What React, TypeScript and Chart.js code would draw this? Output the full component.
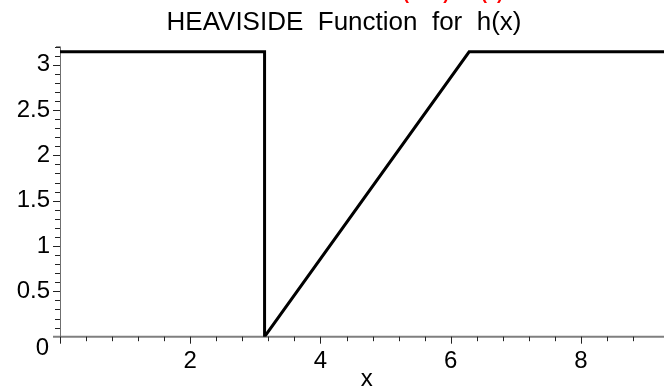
import React, { useEffect, useRef } from "react";
import { Chart, registerables } from "chart.js";

Chart.register(...registerables);

// Piecewise h(x): pi for x < pi, x - pi on [pi, 2pi], pi beyond 2pi
const xValues = [0, Math.PI, Math.PI, 2 * Math.PI, 3 * Math.PI];
const yValues = [Math.PI, Math.PI, 0, Math.PI, Math.PI];

const xTickLabels = [2, 4, 6, 8];
const yTickLabels = [0.5, 1, 1.5, 2, 2.5, 3];

const FONT = "'Liberation Sans', Arial, Helvetica, sans-serif";

const near = (a: number, b: number) => Math.abs(a - b) < 1e-6;
const isMultiple = (v: number, step: number) => near(v / step, Math.round(v / step));

const axesPlugin = {
  id: "mapleAxes",
  beforeDatasetsDraw(chart: any) {
    const { ctx, chartArea } = chart;
    const xs = chart.scales.x;
    const ys = chart.scales.y;
    const y0 = ys.getPixelForValue(0);
    const x0 = xs.getPixelForValue(0);
    ctx.save();
    // axis lines
    ctx.strokeStyle = "#7f7f7f";
    ctx.lineWidth = 2;
    ctx.beginPath();
    ctx.moveTo(x0 - 7, y0);
    ctx.lineTo(chart.width, y0);
    ctx.stroke();
    ctx.lineWidth = 1;
    ctx.strokeStyle = "#6f6f6f";
    ctx.beginPath();
    ctx.moveTo(x0 + 0.5, chartArea.top);
    ctx.lineTo(x0 + 0.5, y0);
    ctx.stroke();
    // tick marks
    ctx.strokeStyle = "#222";
    ctx.lineWidth = 1;
    ctx.beginPath();
    xs.ticks.forEach((t: any) => {
      const v = t.value;
      if (!isMultiple(v, 0.4)) return;
      const px = Math.round(xs.getPixelForValue(v)) + 0.5;
      const len = isMultiple(v, 2) ? 7 : 4.5;
      ctx.moveTo(px, y0);
      ctx.lineTo(px, y0 + len);
    });
    ys.ticks.forEach((t: any) => {
      const v = t.value;
      if (!isMultiple(v, 0.1) || near(v, 0)) return;
      const py = Math.round(ys.getPixelForValue(v)) + 0.5;
      const len = isMultiple(v, 0.5) ? 7 : 5;
      ctx.moveTo(x0, py);
      ctx.lineTo(x0 - len, py);
    });
    // hook at the top of the vertical axis
    ctx.moveTo(x0 - 4, chartArea.top + 0.5);
    ctx.lineTo(x0, chartArea.top + 0.5);
    ctx.stroke();
    // origin label sits below the horizontal axis
    ctx.fillStyle = "#000";
    ctx.font = `24px ${FONT}`;
    ctx.textAlign = "right";
    ctx.textBaseline = "middle";
    ctx.fillText("0", x0 - 11, y0 + 12);
    ctx.restore();
  },
  afterDraw(chart: any) {
    const { ctx } = chart;
    ctx.save();
    ctx.fillStyle = "#000";
    ctx.font = `26px ${FONT}`;
    ctx.textAlign = "center";
    ctx.textBaseline = "middle";
    ctx.fillText("HEAVISIDE  Function  for  h(x)", chart.width / 2, 23);
    // command line above the plot, mostly out of view
    ctx.fillStyle = "#ff0000";
    ctx.font = `bold 18px ${FONT}`;
    ctx.textAlign = "left";
    ctx.textBaseline = "alphabetic";
    ctx.fillText("(x\u2212\u03c0)", 403, -1.5);
    ctx.fillText("(x)", 481, -1.5);
    ctx.restore();
  },
};

export default function App() {
  const canvasRef = useRef<HTMLCanvasElement | null>(null);

  useEffect(() => {
    const canvas = canvasRef.current;
    if (!canvas) return;
    const chart = new Chart(canvas, {
      type: "scatter",
      data: {
        datasets: [
          {
            data: xValues.map((x, i) => ({ x, y: yValues[i] })),
            showLine: true,
            borderColor: "#000",
            borderWidth: 3,
            pointRadius: 0,
            fill: false,
          },
        ],
      },
      options: {
        responsive: false,
        animation: false,
        devicePixelRatio: 1,
        layout: { padding: { left: 0, right: 14.3, top: 46.5, bottom: 0 } },
        plugins: {
          legend: { display: false },
          tooltip: { enabled: false },
          title: { display: false },
        },
        scales: {
          x: {
            type: "linear",
            min: 0,
            max: 3 * Math.PI,
            grid: { display: false, drawTicks: false },
            border: { display: false },
            afterFit: (scale: any) => {
              scale.height = 50.3;
            },
            ticks: {
              stepSize: 0.4,
              autoSkip: false,
              maxRotation: 0,
              padding: 10,
              color: "#000",
              font: { family: FONT, size: 24 },
              callback: (v: any) => {
                const n = Number(v);
                const hit = xTickLabels.find((l) => near(l, n));
                return hit !== undefined ? String(hit) : "";
              },
            },
            title: {
              display: true,
              text: "x",
              color: "#000",
              font: { family: FONT, size: 24, lineHeight: 1 },
              padding: { top: 0, bottom: -4 },
            },
          },
          y: {
            type: "linear",
            min: 0,
            max: 3.2,
            grid: { display: false, drawTicks: false },
            border: { display: false },
            afterFit: (scale: any) => {
              scale.width = 60;
            },
            ticks: {
              stepSize: 0.1,
              autoSkip: false,
              padding: 10,
              color: "#000",
              font: { family: FONT, size: 24 },
              callback: (v: any) => {
                const n = Number(v);
                const hit = yTickLabels.find((l) => near(l, n));
                return hit !== undefined ? String(hit) : "";
              },
            },
          },
        },
      },
      plugins: [axesPlugin],
    });
    return () => chart.destroy();
  }, []);

  return (
    <div
      style={{
        position: "absolute",
        left: 0,
        top: 0,
        width: 664,
        height: 387,
        overflow: "hidden",
        background: "#fff",
      }}
    >
      <canvas ref={canvasRef} width={688} height={387} style={{ display: "block" }} />
    </div>
  );
}
